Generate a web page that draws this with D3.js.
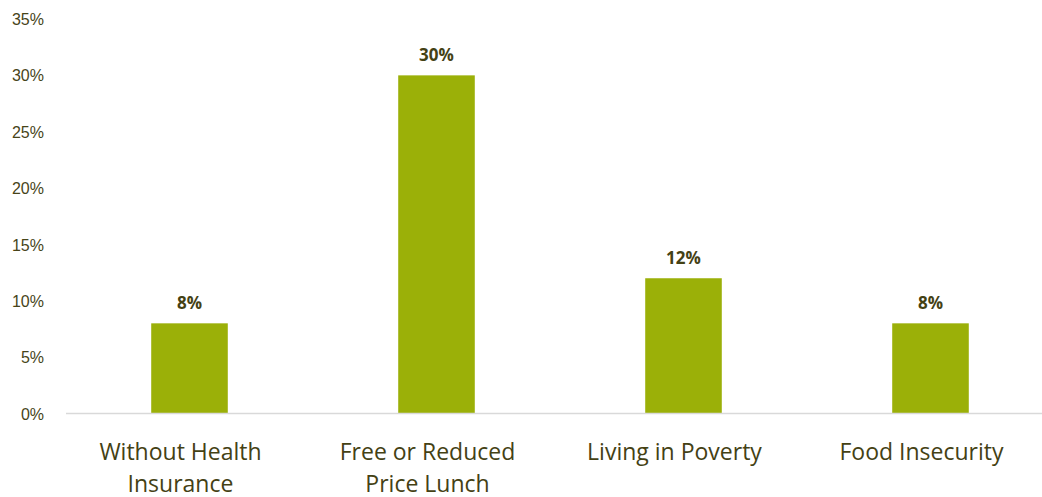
<!DOCTYPE html>
<html>
<head>
<meta charset="utf-8">
<script src="https://cdn.jsdelivr.net/npm/d3@7"></script>
<style>
  body { margin: 0; background: #fff; }
  svg { display: block; font-family: "Open Sans", "Noto Sans", sans-serif; }
  .tick text { fill: #474419; font-size: 16px; }
  .cat { fill: #444114; font-size: 23px; }
  .val { fill: #444114; font-size: 17px; font-weight: bold; }
</style>
</head>
<body>
<div id="chart"></div>
<script>
// chart data
var categories = [["Without Health", "Insurance"], ["Free or Reduced", "Price Lunch"], ["Living in Poverty"], ["Food Insecurity"]];
var values = [8, 30, 12, 8];
var valueLabels = ["8%", "30%", "12%", "8%"];
var yTicks = [0, 5, 10, 15, 20, 25, 30, 35];

var width = 1042, height = 497;
var margin = {top: 19, right: 0, bottom: 84, left: 66};

var svg = d3.select("#chart").append("svg")
    .attr("width", width)
    .attr("height", height);

var x = d3.scaleBand()
    .domain(d3.range(values.length))
    .range([margin.left, margin.left + 4 * 247])
    .paddingInner(0.69)
    .paddingOuter(0.345);

var y = d3.scaleLinear()
    .domain([0, 35])
    .range([height - margin.bottom + 0.5, margin.top]);

// y axis (labels only)
var yAxis = svg.append("g")
    .attr("transform", "translate(44,0)")
    .call(d3.axisLeft(y).tickValues(yTicks).tickSize(0).tickPadding(0)
        .tickFormat(function(d) { return d + "%"; }));
yAxis.select(".domain").remove();
yAxis.selectAll(".tick text").attr("dy", "0.35em");

// bars
svg.selectAll(".bar")
    .data(values)
    .enter().append("rect")
    .attr("class", "bar")
    .attr("x", function(d, i) { return x(i); })
    .attr("width", x.bandwidth())
    .attr("y", function(d) { return y(d); })
    .attr("height", function(d) { return y(0) - y(d); })
    .attr("fill", "#9bb008");

// baseline
svg.append("line")
    .attr("x1", margin.left)
    .attr("x2", width)
    .attr("y1", y(0))
    .attr("y2", y(0))
    .attr("stroke", "#d9d9d9")
    .attr("stroke-width", 1.5);

// value labels
svg.selectAll(".val")
    .data(values)
    .enter().append("text")
    .attr("class", "val")
    .attr("text-anchor", "middle")
    .attr("x", function(d, i) { return x(i) + x.bandwidth() / 2; })
    .attr("y", function(d) { return y(d) - 14; })
    .text(function(d, i) { return valueLabels[i]; });

// category labels (sit a little left of the bar centres, as in the original)
var cat = svg.selectAll(".cat")
    .data(categories)
    .enter().append("text")
    .attr("class", "cat")
    .attr("text-anchor", "middle")
    .attr("x", function(d, i) { return x(i) + x.bandwidth() / 2 - 9; })
    .attr("y", y(0) + 46);

cat.selectAll("tspan")
    .data(function(d) { return d; })
    .enter().append("tspan")
    .attr("x", function() { return d3.select(this.parentNode).attr("x"); })
    .attr("dy", function(d, i) { return i === 0 ? 0 : 32; })
    .text(function(d) { return d; });
</script>
</body>
</html>
